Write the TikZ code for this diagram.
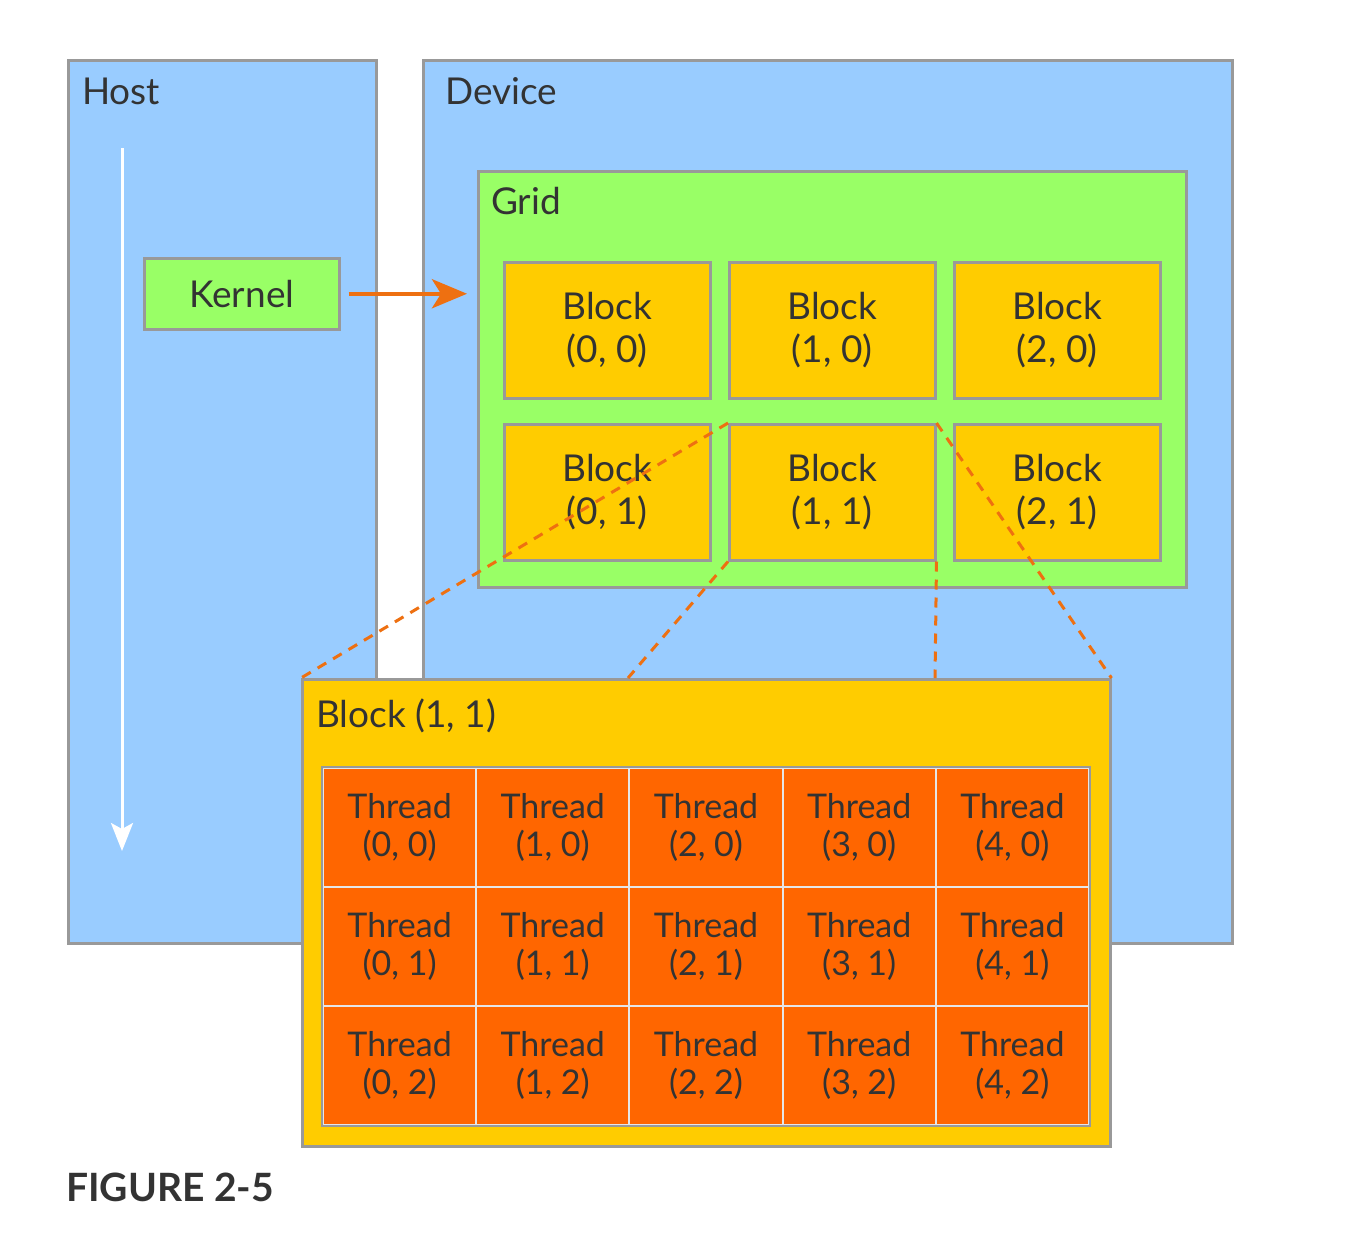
\documentclass[tikz,border=0pt]{standalone}
\usepackage{fontspec}
\setmainfont{Lato}
\usetikzlibrary{arrows.meta}
\definecolor{hostblue}{HTML}{99CCFF}
\definecolor{gridgreen}{HTML}{99FF66}
\definecolor{blockyellow}{HTML}{FFCC00}
\definecolor{threadorange}{HTML}{FF6600}
\definecolor{bordergray}{HTML}{999999}
\definecolor{cellline}{HTML}{E6E6E6}
\definecolor{arroworange}{HTML}{EE7011}
\definecolor{txt}{HTML}{333333}
\tikzset{
  box/.style={draw=bordergray, line width=2.5pt, anchor=north west, inner sep=0pt, text=txt},
  hostbox/.style={box, fill=hostblue},
  gridbox/.style={box, fill=gridgreen},
  blockbox/.style={box, fill=blockyellow, minimum width=206pt, minimum height=136pt, align=center,
     font=\fontsize{37}{43}\selectfont},
  threadcell/.style={draw=cellline, line width=2pt, fill=threadorange, anchor=north west, inner sep=0pt,
     minimum width=153.2pt, minimum height=119pt, align=center, text=txt,
     font=\fontsize{34}{38.5}\selectfont},
  lbl/.style={anchor=base west, text=txt, inner sep=0pt, font=\fontsize{37}{43}\selectfont},
  dashconn/.style={draw=arroworange, line width=3pt, dash pattern=on 10pt off 8pt},
}
\begin{document}
\begin{tikzpicture}[x=1pt,y=-1pt]
\useasboundingbox[fill=white] (0,0) rectangle (1364,1234);
% Host and Device
\node[hostbox, minimum width=308pt, minimum height=883pt] (host) at (67,59) {};
\node[hostbox, minimum width=809pt, minimum height=883pt] (device) at (422,59) {};
\node[lbl] (hostlbl) at (82,104) {Host};
\node[lbl] (devlbl) at (445,104) {Device};
% white timeline arrow
\coordinate (tstart) at (122,148);
\coordinate (tend) at (122,851);
\draw[white, line width=3pt, -{Stealth[length=28pt,width=22pt,inset=6pt]}] (tstart) -- (tend);
% Kernel
\node[gridbox, minimum width=195pt, minimum height=71pt, font=\fontsize{37}{43}\selectfont] (kernel) at (143,257) {Kernel};
% Grid
\node[gridbox, minimum width=708pt, minimum height=416pt] (grid) at (477,170) {};
\node[lbl] (gridlbl) at (491,214) {Grid};
% Blocks
\node[blockbox] (b00) at (503,261) {Block\\(0, 0)};
\node[blockbox] (b10) at (728,261) {Block\\(1, 0)};
\node[blockbox] (b20) at (953,261) {Block\\(2, 0)};
\node[blockbox] (b01) at (503,423) {Block\\(0, 1)};
\node[blockbox] (b11) at (728,423) {Block\\(1, 1)};
\node[blockbox] (b21) at (953,423) {Block\\(2, 1)};
% Kernel launch arrow
\draw[arroworange, line width=4.5pt, -{Stealth[length=35pt,width=29pt,inset=9pt]}, shorten <=8pt, shorten >=10pt]
  (kernel.east) -- (kernel.east -| grid.west);
% Expanded block
\node[box, fill=blockyellow, minimum width=808pt, minimum height=467pt] (big) at (301,678) {};
\node[lbl] (biglbl) at (316,727) {Block (1, 1)};
% Threads
\foreach \r in {0,1,2} {
  \foreach \c in {0,...,4} {
    \node[threadcell] (t\c\r) at ({322+153.2*\c},{767+119*\r}) {Thread\\(\c, \r)};
  }
}
\draw[bordergray, line width=2.5pt] (t00.north west) rectangle (t42.south east);
% dashed connectors
\coordinate (bigA) at (628,678);
\coordinate (bigB) at (935,678);
\draw[dashconn] (b11.north west) -- (big.north west);
\draw[dashconn] (b11.south west) -- (bigA);
\draw[dashconn] (b11.south east) -- (bigB);
\draw[dashconn] (b11.north east) -- (big.north east);
% caption
\node[anchor=base west, inner sep=0pt, text=txt, font=\fontsize{39}{44}\selectfont\bfseries] (cap) at (66,1201) {FIGURE 2-5};
\end{tikzpicture}
\end{document}
